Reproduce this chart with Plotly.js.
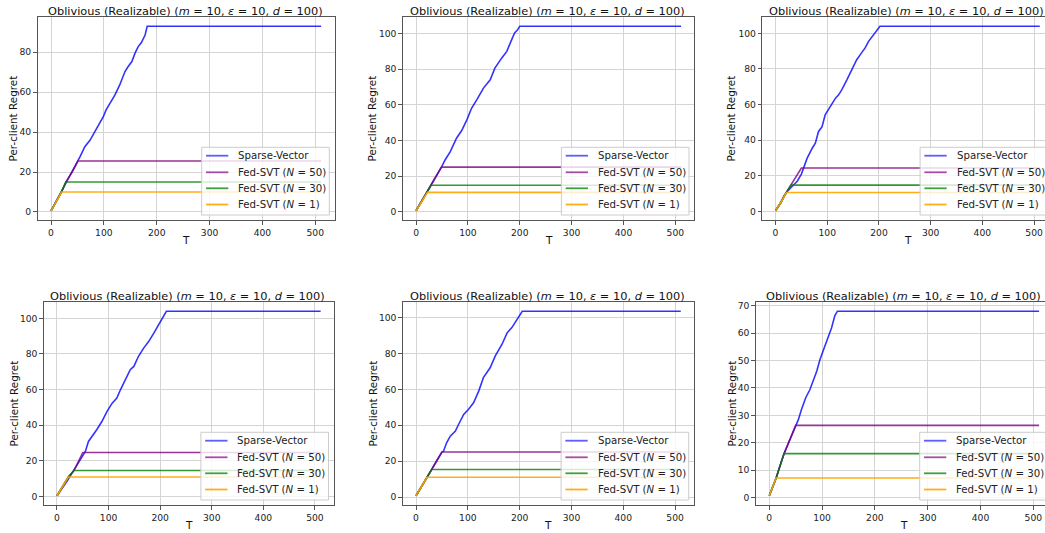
<!DOCTYPE html>
<html>
<head>
<meta charset="utf-8">
<script src="https://cdn.plot.ly/plotly-3.0.1.min.js"></script>
<style>
html, body { margin: 0; padding: 0; overflow: hidden; background: #fff; }
#chart { width: 1060px; height: 533px; }
</style>
</head>
<body>
<div id="chart"></div>
<script>
// ---------- data ----------
const seriesNames = ["Sparse-Vector", "Fed-SVT (<i>N</i> = 50)", "Fed-SVT (<i>N</i> = 30)", "Fed-SVT (<i>N</i> = 1)"];
const panelTitle = "Oblivious (Realizable) (<i>m</i> = 10, <i>ε</i> = 10, <i>d</i> = 100)";
const xTickVals = [0, 100, 200, 300, 400, 500];

// Panel 1
const p1_sv_T = [0, 10, 20, 30, 40, 50, 55, 64, 74, 83, 93, 99, 104, 112, 121, 130, 140, 146, 153, 159, 165, 171, 178, 182, 511];
const p1_sv_v = [0.6, 5.4, 10.3, 15.3, 20.2, 24.8, 27.7, 32.7, 36, 40.2, 45.2, 47.7, 51, 54.4, 58.6, 63.6, 70.3, 72.8, 75.3, 79.5, 82.8, 84.8, 88.6, 93, 93];
const p1_f50_T = [0, 10, 20, 28, 40, 51, 511];
const p1_f50_v = [0.6, 5.3, 10.1, 15, 20, 25.5, 25.5];
const p1_f30_T = [0, 10, 20, 28, 511];
const p1_f30_v = [0.6, 5.3, 10.1, 15, 15];
const p1_f1_T = [0, 10, 20, 511];
const p1_f1_v = [0.6, 5.3, 10, 10];

// Panel 2
const p2_sv_T = [0, 10, 22, 29, 40, 49, 56, 66, 78, 88, 98, 107, 117, 130, 143, 152, 165, 175, 183, 190, 195, 200, 511];
const p2_sv_v = [0.5, 5.5, 10.8, 14.8, 20, 25, 29, 33.7, 41.2, 45.5, 51.5, 58, 62.7, 69.3, 74, 80.5, 86.1, 89.9, 95.5, 100.2, 101.7, 104, 104];
const p2_f50_T = [0, 10, 22, 29, 40, 49, 511];
const p2_f50_v = [0.5, 5.5, 10.8, 14.8, 20, 25, 25];
const p2_f30_T = [0, 10, 22, 29, 511];
const p2_f30_v = [0.5, 5.5, 10.8, 14.8, 14.8];
const p2_f1_T = [0, 10, 22, 511];
const p2_f1_v = [0.5, 5.5, 10.8, 10.8];

// Panel 3
const p3_sv_T = [0, 10, 16, 21, 30, 42, 50, 55, 61, 71, 77, 83, 90, 96, 106, 116, 122, 128, 138, 148, 157, 167, 173, 180, 189, 199, 202, 511];
const p3_sv_v = [0.4, 4.9, 8.6, 10.7, 13.5, 17, 21, 24.6, 29.8, 35.5, 38.3, 44.8, 47.6, 54.2, 58.9, 63.6, 65.5, 68.3, 73.9, 79.5, 85.2, 89.3, 91.7, 95.5, 99.2, 103, 104, 104];
const p3_f50_T = [0, 10, 21, 30, 40, 50, 511];
const p3_f50_v = [0.4, 4.9, 10.7, 14.8, 19.6, 24.4, 24.4];
const p3_f30_T = [0, 10, 21, 30, 511];
const p3_f30_v = [0.4, 4.9, 10.7, 14.8, 14.8];
const p3_f1_T = [0, 10, 21, 511];
const p3_f1_v = [0.4, 4.9, 10.7, 10.7];

// Panel 4
const p4_sv_T = [0, 10, 20, 30, 40, 50, 55, 61, 68, 77, 87, 97, 107, 116, 123, 133, 142, 149, 158, 168, 178, 188, 197, 204, 212, 511];
const p4_sv_v = [0.4, 4.3, 8.8, 13.5, 18.5, 23.5, 25.3, 30.9, 33.7, 37.5, 42.1, 47.8, 52.4, 55.2, 59.9, 65.5, 71.2, 73, 78.7, 83.3, 87.1, 91.8, 96.4, 99.3, 104, 104];
const p4_f50_T = [0, 10, 22, 33, 42, 50, 511];
const p4_f50_v = [0.4, 5, 10.9, 14.6, 20, 24.7, 24.7];
const p4_f30_T = [0, 10, 22, 33, 511];
const p4_f30_v = [0.4, 5, 10.9, 14.6, 14.6];
const p4_f1_T = [0, 10, 22, 511];
const p4_f1_v = [0.4, 5, 10.9, 10.9];

// Panel 5
const p5_sv_T = [0, 10, 21, 30, 40, 50, 53, 59, 66, 76, 82, 92, 101, 111, 121, 130, 143, 153, 166, 176, 185, 195, 205, 511];
const p5_sv_v = [0.7, 5.8, 11, 15.3, 20.2, 25, 25.5, 30.2, 33.9, 36.7, 40.4, 46, 48.8, 52.5, 59, 66.5, 72, 78.6, 85.1, 91.6, 94.4, 99, 103.5, 103.5];
const p5_f50_T = [0, 10, 21, 30, 40, 50, 511];
const p5_f50_v = [0.7, 5.8, 11, 15.3, 20.2, 25.1, 25.1];
const p5_f30_T = [0, 10, 21, 30, 511];
const p5_f30_v = [0.7, 5.8, 11, 15.3, 15.3];
const p5_f1_T = [0, 10, 21, 511];
const p5_f1_v = [0.7, 5.8, 11, 11];

// Panel 6
const p6_sv_T = [0, 13, 20, 28, 40, 50, 55, 61, 69, 77, 86, 90, 96, 104, 112, 118, 124, 129, 511];
const p6_sv_v = [0.6, 7.1, 11.5, 16, 21.5, 26.4, 28.4, 32.1, 36.4, 39.4, 43.7, 46.2, 50.4, 54.7, 58.4, 62, 66.3, 68, 68];
const p6_f50_T = [0, 13, 28, 40, 50, 511];
const p6_f50_v = [0.6, 7.1, 16, 21.5, 26.3, 26.3];
const p6_f30_T = [0, 13, 28, 511];
const p6_f30_v = [0.6, 7.1, 16, 16];
const p6_f1_T = [0, 13, 511];
const p6_f1_v = [0.6, 7.1, 7.1];

const yTicks1 = [0, 20, 40, 60, 80];
const yTicks2 = [0, 20, 40, 60, 80, 100];
const yTicks6 = [0, 10, 20, 30, 40, 50, 60, 70];

// ---------- layout / styling ----------
const W = 1060, H = 533;
const colors = ["rgba(0,0,255,0.8)", "rgba(128,0,128,0.8)", "rgba(0,128,0,0.8)", "rgba(255,165,0,0.9)"];
const legendColors = ["rgba(40,40,255,0.75)", "rgba(128,0,128,0.7)", "rgba(0,128,0,0.75)", "rgba(255,165,0,0.9)"];
const FONT = "DejaVu Sans, Verdana, sans-serif";

const panels = [
  {series: [[p1_sv_T, p1_sv_v], [p1_f50_T, p1_f50_v], [p1_f30_T, p1_f30_v], [p1_f1_T, p1_f1_v]], yticks: yTicks1, box: [37.5, 334.6, 17, 220], ylabX: 13},
  {series: [[p2_sv_T, p2_sv_v], [p2_f50_T, p2_f50_v], [p2_f30_T, p2_f30_v], [p2_f1_T, p2_f1_v]], yticks: yTicks2, box: [402.8, 694.3, 17, 220], ylabX: 372},
  {series: [[p3_sv_T, p3_sv_v], [p3_f50_T, p3_f50_v], [p3_f30_T, p3_f30_v], [p3_f1_T, p3_f1_v]], yticks: yTicks2, box: [762.3, 1053, 17, 220], ylabX: 731},
  {series: [[p4_sv_T, p4_sv_v], [p4_f50_T, p4_f50_v], [p4_f30_T, p4_f30_v], [p4_f1_T, p4_f1_v]], yticks: yTicks2, box: [43.8, 333.8, 302, 505], ylabX: 13},
  {series: [[p5_sv_T, p5_sv_v], [p5_f50_T, p5_f50_v], [p5_f30_T, p5_f30_v], [p5_f1_T, p5_f1_v]], yticks: yTicks2, box: [402.8, 694, 302, 505], ylabX: 372},
  {series: [[p6_sv_T, p6_sv_v], [p6_f50_T, p6_f50_v], [p6_f30_T, p6_f30_v], [p6_f1_T, p6_f1_v]], yticks: yTicks6, box: [755.8, 1052.6, 302, 505], ylabX: 731}
];

const traces = [];
const layout = {
  width: W, height: H,
  margin: {l: 0, r: 0, t: 0, b: 0},
  paper_bgcolor: "#fff", plot_bgcolor: "#fff",
  font: {family: FONT, color: "#222"},
  annotations: [],
  shapes: [],
  showlegend: false
};
const px = v => v / W;
const py = v => 1 - v / H;

panels.forEach((p, i) => {
  const n = i + 1;
  const xa = n === 1 ? "x" : "x" + n;
  const ya = n === 1 ? "y" : "y" + n;
  let allX = [], allY = [];
  p.series.forEach((s, k) => {
    allX = allX.concat(s[0]); allY = allY.concat(s[1]);
    traces.push({
      type: "scatter", mode: "lines",
      x: s[0], y: s[1],
      xaxis: xa, yaxis: ya,
      name: seriesNames[k],
      line: {color: colors[k], width: 1.6},
      hoverinfo: "skip"
    });
  });
  const xmin = Math.min(...allX), xmax = Math.max(...allX);
  const ymin = Math.min(...allY), ymax = Math.max(...allY);
  const xp = (xmax - xmin) * 0.05, yp = (ymax - ymin) * 0.05;
  const [L, R, T, B] = p.box;
  const axCommon = {
    showline: true, linecolor: "#555", linewidth: 1, mirror: true,
    showgrid: true, gridcolor: "#d4d4d4", gridwidth: 1,
    zeroline: false, ticks: "outside", ticklen: 3.5, tickwidth: 1, tickcolor: "#555",
    tickfont: {family: FONT, size: 9.2, color: "#222"},
    fixedrange: true
  };
  layout[n === 1 ? "xaxis" : "xaxis" + n] = Object.assign({}, axCommon, {
    domain: [L / W, R / W], anchor: ya,
    range: [xmin - xp, xmax + xp],
    tickmode: "array", tickvals: xTickVals, ticktext: xTickVals.map(String)
  });
  layout[n === 1 ? "yaxis" : "yaxis" + n] = Object.assign({}, axCommon, {
    domain: [1 - B / H, 1 - T / H], anchor: xa,
    range: [ymin - yp, ymax + yp],
    tickmode: "array", tickvals: p.yticks, ticktext: p.yticks.map(String)
  });

  // legend box (matplotlib style, lower right)
  const lgR = R - 5.3, lgB = B - 5, lgW = 127.6, lgH = 67.7;
  const lgL = lgR - lgW, lgT = lgB - lgH;
  layout.shapes.push({
    type: "rect", xref: "paper", yref: "paper", layer: "above",
    x0: px(lgL), x1: px(lgR), y0: py(lgB), y1: py(lgT),
    fillcolor: "rgba(255,255,255,0.8)", line: {color: "#cccccc", width: 1}
  });
  const rowOff = [8.4, 25, 41, 57.2];
  seriesNames.forEach((nm, k) => {
    const ry = lgT + rowOff[k];
    layout.shapes.push({
      type: "line", xref: "paper", yref: "paper", layer: "above",
      x0: px(lgL + 4.3), x1: px(lgL + 26.6), y0: py(ry), y1: py(ry),
      line: {color: legendColors[k], width: 1.8}
    });
    layout.annotations.push({
      text: nm, xref: "paper", yref: "paper", x: px(lgL + 34.5), y: py(ry),
      xanchor: "left", yanchor: "middle", showarrow: false,
      font: {family: FONT, size: 10.2, color: "#222"}
    });
  });

  const cx = (L + R) / 2 / W;
  layout.annotations.push({
    text: panelTitle, xref: "paper", yref: "paper", x: cx - 1 / W, y: py(T - 6.5),
    xanchor: "center", yanchor: "middle", showarrow: false,
    font: {family: FONT, size: 11.35, color: "#111"}
  });
  layout.annotations.push({
    text: "T", xref: "paper", yref: "paper", x: cx, y: py(B + 19.5),
    xanchor: "center", yanchor: "middle", showarrow: false,
    font: {family: FONT, size: 10.5, color: "#111"}
  });
  layout.annotations.push({
    text: "Per-client Regret", xref: "paper", yref: "paper", x: px(p.ylabX), y: py((T + B) / 2),
    xanchor: "center", yanchor: "middle", showarrow: false, textangle: -90,
    font: {family: FONT, size: 10.4, color: "#111"}
  });
});

Plotly.newPlot("chart", traces, layout, {staticPlot: true, displayModeBar: false});
</script>
</body>
</html>
